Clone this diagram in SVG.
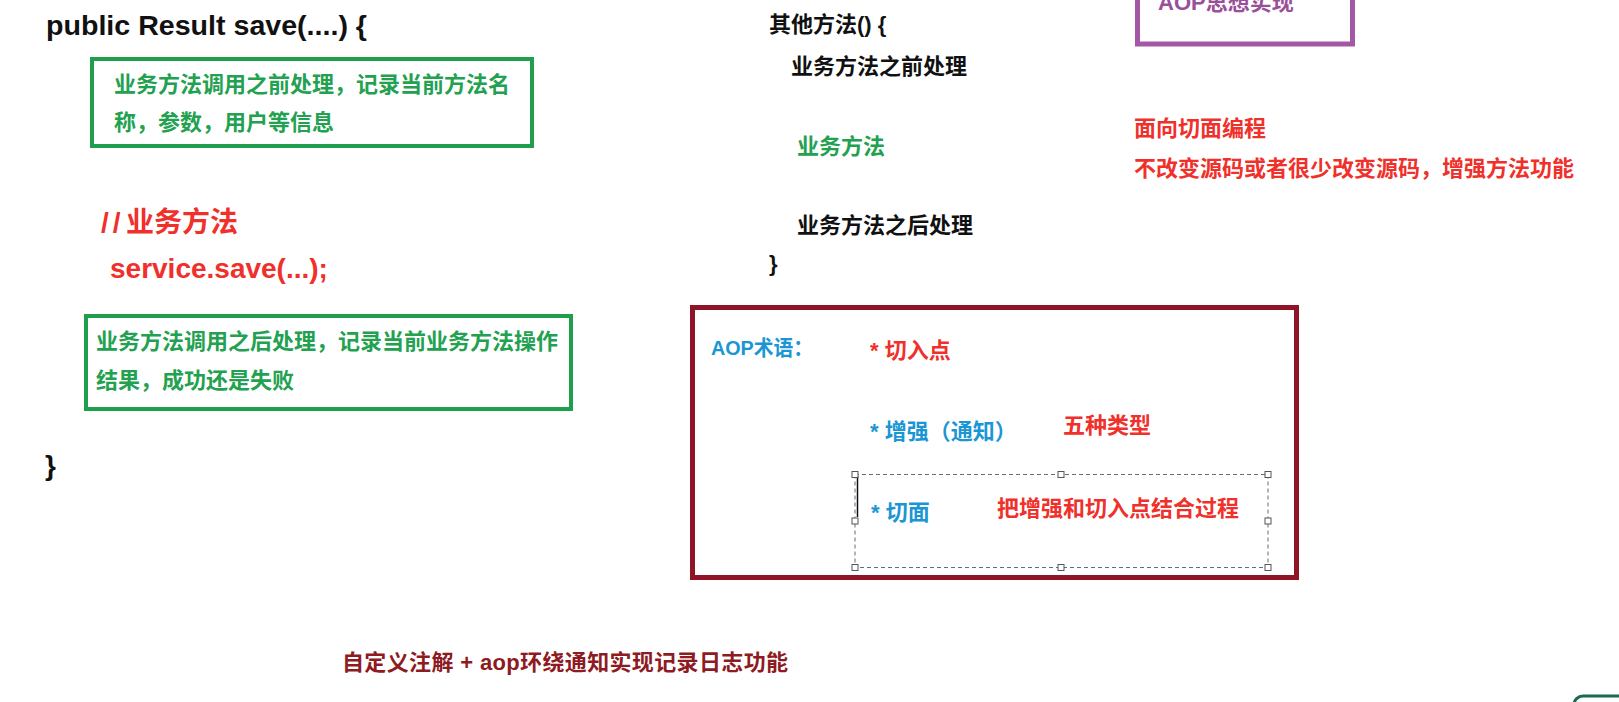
<svg xmlns="http://www.w3.org/2000/svg" width="1619" height="702" viewBox="0 0 1619 702">
<style>
text{font-family:"Liberation Sans","Noto Sans CJK SC",sans-serif;font-weight:bold;}
.code{font-size:28px;}
.t22{font-size:22px;}
.t20{font-size:21px;}
.blk{fill:#111;}
.grn{fill:#22a150;}
.red{fill:#f0302a;}
.blu{fill:#1a96d4;}
.gbox{fill:none;stroke:#1f9e4b;stroke-width:4;}
.hdl{fill:#fff;stroke:#555;stroke-width:1;}
</style>
<rect x="0" y="0" width="1619" height="702" fill="#fff"/>

<g id="left-code">
<text class="code blk" x="46" y="35" textLength="321" lengthAdjust="spacingAndGlyphs">public Result save(....) {</text>
<text class="code blk" x="45" y="475">}</text>
</g>

<g id="before-box">
<rect class="gbox" x="92" y="59" width="440" height="87"/>
<text class="t22 grn" x="114" y="92">业务方法调用之前处理，记录当前方法名</text>
<text class="t22 grn" x="114" y="130">称，参数，用户等信息</text>
</g>

<g id="business-call">
<text class="code red" x="101" y="232"><tspan letter-spacing="4">//</tspan><tspan x="126">业务方法</tspan></text>
<text class="code red" x="110" y="278">service.save(...);</text>
</g>

<g id="after-box">
<rect class="gbox" x="86" y="316" width="485" height="93"/>
<text class="t22 grn" x="96" y="349">业务方法调用之后处理，记录当前业务方法操作</text>
<text class="t22 grn" x="96" y="388">结果，成功还是失败</text>
</g>

<g id="other-method">
<text class="t22 blk" x="769" y="32">其他方法() {</text>
<text class="t22 blk" x="791" y="74">业务方法之前处理</text>
<text class="t22 grn" x="797" y="154">业务方法</text>
<text class="t22 blk" x="797" y="233">业务方法之后处理</text>
<text class="t22 blk" x="769" y="271">}</text>
</g>

<g id="aop-idea">
<rect x="1137.5" y="-10" width="215" height="54" fill="none" stroke="#a458a4" stroke-width="5"/>
<text class="t22" x="1158" y="10" fill="#9a4f9a">AOP思想实现</text>
</g>

<g id="aop-desc">
<text class="t22 red" x="1134" y="136">面向切面编程</text>
<text class="t22 red" x="1134" y="176">不改变源码或者很少改变源码，增强方法功能</text>
</g>

<g id="aop-terms">
<rect x="692.5" y="307.5" width="604" height="270" fill="none" stroke="#8e1527" stroke-width="5"/>
<text class="t20 blu" x="711" y="355" textLength="102" lengthAdjust="spacingAndGlyphs">AOP术语：</text>
<text class="t22 red" x="870" y="358">* 切入点</text>
<text class="t22 blu" x="870" y="439">* 增强（通知）</text>
<text class="t22 red" x="1063" y="433">五种类型</text>
<g id="aspect-selection">
<rect x="855" y="474.5" width="413" height="93" fill="none" stroke="#5a6f80" stroke-width="1" stroke-dasharray="4 3"/>
<line x1="857.5" y1="476" x2="857.5" y2="517" stroke="#111" stroke-width="1.5"/>
<rect class="hdl" x="852" y="471.5" width="6" height="6"/>
<rect class="hdl" x="1058" y="471.5" width="6" height="6"/>
<rect class="hdl" x="1265" y="471.5" width="6" height="6"/>
<rect class="hdl" x="852" y="518" width="6" height="6"/>
<rect class="hdl" x="1265" y="518" width="6" height="6"/>
<rect class="hdl" x="852" y="564.5" width="6" height="6"/>
<rect class="hdl" x="1058" y="564.5" width="6" height="6"/>
<rect class="hdl" x="1265" y="564.5" width="6" height="6"/>
</g>
<text class="t22 blu" x="871" y="520">* 切面</text>
<text class="t22 red" x="997" y="516">把增强和切入点结合过程</text>
</g>

<g id="summary">
<text class="t22" x="342" y="670" fill="#8e1a22" textLength="446" lengthAdjust="spacing">自定义注解 + aop环绕通知实现记录日志功能</text>
</g>

<g id="corner-widget">
<rect x="1574" y="696" width="80" height="40" rx="9" fill="#fff" stroke="#1b6b4f" stroke-width="3"/>
</g>

<g id="connectors"></g>
</svg>
